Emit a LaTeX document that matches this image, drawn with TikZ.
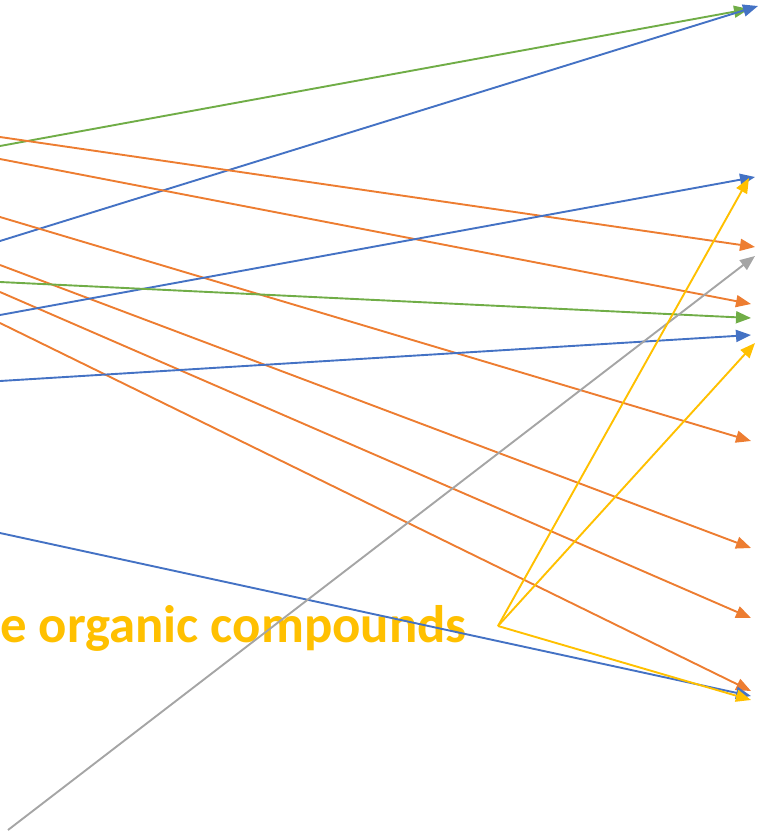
\documentclass[tikz,border=0pt]{standalone}
\usepackage{fontspec}
\setmainfont{Carlito}
\usetikzlibrary{arrows.meta}
\definecolor{oblue}{HTML}{4472C4}
\definecolor{oorange}{HTML}{ED7D31}
\definecolor{ogray}{HTML}{A5A5A5}
\definecolor{oyellow}{HTML}{FFC000}
\definecolor{ogreen}{HTML}{70AD47}
\tikzset{
  conn/.style={line width=1.9pt, -{Triangle[length=15pt,width=12pt]}},
  lbl/.style={text=oyellow, font=\bfseries\fontsize{52.8}{60}\selectfont, inner sep=0pt, anchor=base east}
}
\begin{document}
\begin{tikzpicture}[x=1pt,y=-1pt]
\useasboundingbox (0,0) rectangle (760,836);
\clip (0,0) rectangle (760,836);
% coordinates
\coordinate (g1s) at (0,146);   \coordinate (g1e) at (749,9);
\coordinate (b2s) at (0,241);   \coordinate (b2e) at (758,6);
\coordinate (o1s) at (0,137);   \coordinate (o1e) at (755,247);
\coordinate (o2s) at (0,159);   \coordinate (o2e) at (751,304);
\coordinate (o3s) at (0,217);   \coordinate (o3e) at (751,441);
\coordinate (o4s) at (0,265);   \coordinate (o4e) at (751,548);
\coordinate (o5s) at (0,292);   \coordinate (o5e) at (751,618);
\coordinate (o6s) at (0,323);   \coordinate (o6e) at (751,691);
\coordinate (b5s) at (0,315);   \coordinate (b5e) at (755,177);
\coordinate (g6s) at (0,282);   \coordinate (g6e) at (751,318);
\coordinate (b7s) at (0,381);   \coordinate (b7e) at (751,335);
\coordinate (b8s) at (0,533);   \coordinate (b8e) at (751,696);
\coordinate (gys) at (8,830);   \coordinate (gye) at (755,256);
\coordinate (yv) at (498,626);
\coordinate (y1e) at (749,178); \coordinate (y2e) at (755,343); \coordinate (y3e) at (751,700);
% text
\node[lbl] (txt) at (467,642) {e organic compounds};
% connectors
\draw[conn, ogreen] (g1s) -- (g1e);
\draw[conn, oblue] (b2s) -- (b2e);
\draw[conn, oorange] (o1s) -- (o1e);
\draw[conn, oorange] (o2s) -- (o2e);
\draw[conn, oorange] (o3s) -- (o3e);
\draw[conn, oorange] (o4s) -- (o4e);
\draw[conn, oorange] (o5s) -- (o5e);
\draw[conn, oorange] (o6s) -- (o6e);
\draw[conn, oblue] (b5s) -- (b5e);
\draw[conn, ogreen] (g6s) -- (g6e);
\draw[conn, oblue] (b7s) -- (b7e);
\draw[conn, oblue] (b8s) -- (b8e);
\draw[conn, ogray] (gys) -- (gye);
\draw[conn, oyellow, line join=round] (yv) -- (y1e);
\draw[conn, oyellow, line join=round] (yv) -- (y2e);
\draw[conn, oyellow, line join=round] (yv) -- (y3e);
\end{tikzpicture}
\end{document}
